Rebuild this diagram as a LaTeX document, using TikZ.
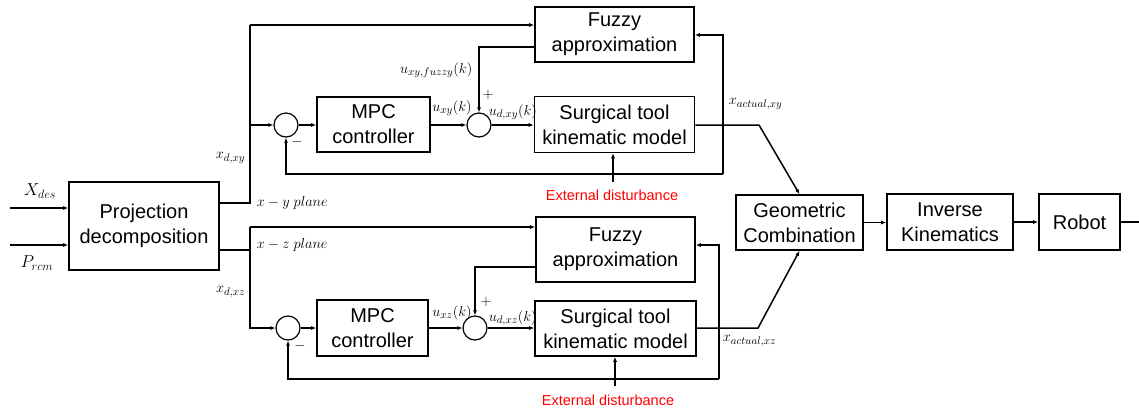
\documentclass[tikz,border=0pt]{standalone}
\usepackage{fontspec}
\setmainfont{Liberation Sans}
\DeclareMathSizes{14}{14}{10.5}{8}
\DeclareMathSizes{17}{17}{12.5}{9}
\usetikzlibrary{arrows.meta}
\begin{document}
\begin{tikzpicture}[x=1pt,y=-1pt, line width=1.5pt,
  >={Latex[length=5pt,width=4pt]},
  blk/.style={draw, line width=1.6pt, align=center, font=\fontsize{20}{25}\selectfont, inner sep=0pt},
  sumc/.style={draw, circle, minimum size=24pt, inner sep=0pt, line width=1.2pt},
  lbl/.style={font=\fontsize{14}{16}\selectfont, inner sep=1pt},
  sgn/.style={font=\fontsize{14}{16}\selectfont, inner sep=0pt},
  biglbl/.style={font=\fontsize{17}{19}\selectfont, inner sep=1pt},
  dist/.style={text=red, font=\fontsize{14.5}{16}\selectfont, inner sep=1pt}]
\useasboundingbox (0,0) rectangle (1139,413);

% blocks
\node[blk, minimum width=150pt, minimum height=88pt] (proj) at (144,226) {Projection\\decomposition};
\node[blk, minimum width=159pt, minimum height=55pt] (fuz1) at (614.5,34.5) {Fuzzy\\approximation};
\node[blk, minimum width=113pt, minimum height=55pt] (mpc1) at (373.5,124.5) {MPC\\controller};
\node[blk, minimum width=160pt, minimum height=56pt] (sur1) at (614.5,124.5) {Surgical tool\\kinematic model};
\node[sumc] (s1a) at (286,125) {};
\node[sumc] (s2a) at (479,125) {};

\node[blk, minimum width=159pt, minimum height=65pt] (fuz2) at (615.5,249.5) {Fuzzy\\approximation};
\node[blk, minimum width=111pt, minimum height=56pt] (mpc2) at (372.5,328) {MPC\\controller};
\node[blk, minimum width=161pt, minimum height=55pt] (sur2) at (615.5,328.5) {Surgical tool\\kinematic model};
\node[sumc] (s1b) at (288,328) {};
\node[sumc] (s2b) at (475,328) {};

\node[blk, minimum width=127pt, minimum height=55pt] (geo) at (799.5,222.5) {Geometric\\Combination};
\node[blk, minimum width=126pt, minimum height=56pt] (ik) at (950,222) {Inverse\\Kinematics};
\node[blk, minimum width=81pt, minimum height=56pt] (rob) at (1079.5,222) {Robot};

% coordinates
\coordinate (in1) at (10,208);
\coordinate (in2) at (10,245);
\coordinate (ja) at (250,203);
\coordinate (jat) at (250,25);
\coordinate (jam) at (250,125);
\coordinate (fa) at (479,47);
\coordinate (oa) at (759,125);
\coordinate (fba) at (723,35);
\coordinate (fbab) at (723,174);
\coordinate (fbal) at (286,174);
\coordinate (da) at (613,182);

\coordinate (jb) at (250,250);
\coordinate (jbt) at (250,227);
\coordinate (jbm) at (250,328);
\coordinate (fb) at (475,267);
\coordinate (ob) at (758,328);
\coordinate (fbb) at (719,245);
\coordinate (fbbb) at (719,379);
\coordinate (fbbl) at (288,379);
\coordinate (db) at (615,386);
\coordinate (out) at (1139,222);

% inputs
\draw[->] (in1) -- (proj.west |- in1);
\draw[->] (in2) -- (proj.west |- in2);

% upper loop
\draw (proj.east |- ja) -- (ja) -- (jat);
\draw[->] (jat) -- (fuz1.west |- jat);
\draw[->] (jam) -- (s1a.west);
\draw[->] (s1a.east) -- (mpc1.west |- s1a.east);
\draw[->] (mpc1.east |- s2a.west) -- (s2a.west);
\draw[->] (s2a.east) -- (sur1.west |- s2a.east);
\draw[->] (fuz1.west |- fa) -- (fa) -- (s2a.north);
\draw[->] (sur1.east |- oa) -- (oa) -- (geo.north);
\draw[->] (fbab) -- (fba) -- (fuz1.east |- fba);
\draw[->] (fbab) -- (fbal) -- (s1a.south);
\draw[->] (da) -- (sur1.south -| da);

% lower loop
\draw (proj.east |- jb) -- (jb) -- (jbt);
\draw[->] (jbt) -- (fuz2.west |- jbt);
\draw[->] (jb) -- (jbm) -- (s1b.west);
\draw[->] (s1b.east) -- (mpc2.west |- s1b.east);
\draw[->] (mpc2.east |- s2b.west) -- (s2b.west);
\draw[->] (s2b.east) -- (sur2.west |- s2b.east);
\draw[->] (fuz2.west |- fb) -- (fb) -- (s2b.north);
\draw[->] (sur2.east |- ob) -- (ob) -- (geo.south);
\draw[->] (fbbb) -- (fbb) -- (fuz2.east |- fbb);
\draw[->] (fbbb) -- (fbbl) -- (s1b.south);
\draw[->] (db) -- (sur2.south -| db);

% right chain
\draw[->] (geo.east) -- (ik.west |- geo.east);
\draw[->] (ik.east) -- (rob.west |- ik.east);
\draw (rob.east) -- (out);

% labels
\node[biglbl] (lxd) at (40,191) {$X_{des}$};
\node[biglbl] (lpr) at (37,263) {$P_{rcm}$};
\node[lbl, anchor=east] (lxdxy) at (247,158) {$x_{d,xy}$};
\node[lbl, anchor=west] (lxy) at (255,203) {$x-y\;plane$};
\node[lbl, anchor=west] (lxz) at (255,245) {$x-z\;plane$};
\node[lbl, anchor=east] (lxdxz) at (247,292) {$x_{d,xz}$};
\node[lbl, anchor=east] (luf) at (474,70) {$u_{xy,fuzzy}(k)$};
\node[lbl] (luxy) at (452,108) {$u_{xy}(k)$};
\node[sgn] (lpa) at (488,95) {$+$};
\node[lbl, anchor=west] (ludxy) at (487,112) {$u_{d,xy}(k)$};
\node[sgn] (lma) at (297,142) {$-$};
\node[lbl, anchor=west] (laxy) at (727,104) {$x_{actual,xy}$};
\node[lbl, anchor=west] (laxz) at (721,341) {$x_{actual,xz}$};
\node[lbl] (luxz) at (452,313) {$u_{xz}(k)$};
\node[sgn] (lpb) at (486,302) {$+$};
\node[lbl, anchor=west] (ludxz) at (487,318) {$u_{d,xz}(k)$};
\node[sgn] (lmb) at (300,346) {$-$};
\node[dist] (ext1) at (612,195) {External disturbance};
\node[dist] (ext2) at (608,400) {External disturbance};
\end{tikzpicture}
\end{document}
